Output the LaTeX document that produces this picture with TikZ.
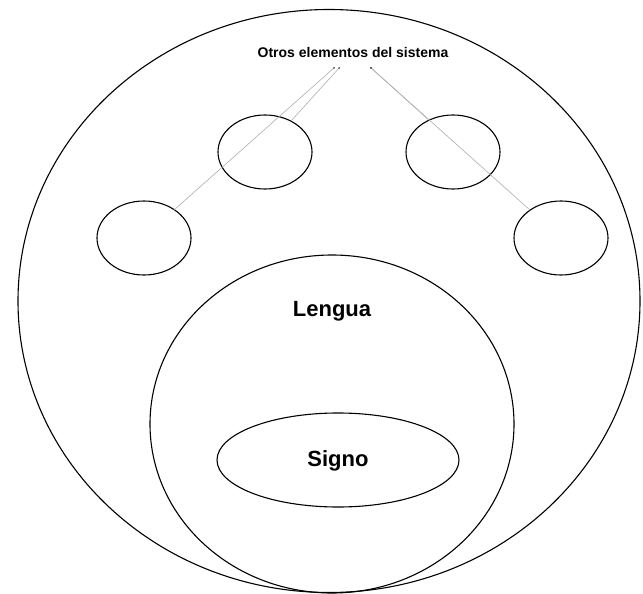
\documentclass[tikz,border=0pt]{standalone}
\usepackage{fontspec}
\setmainfont{Liberation Sans}
\usetikzlibrary{shapes.geometric, arrows.meta, positioning}

\begin{document}
\begin{tikzpicture}[
  x=1pt, y=-1pt,
  every node/.style={font=\bfseries},
  circ/.style={ellipse, draw, line width=1.1pt, inner sep=0pt, outer sep=0pt},
  elem/.style={circ, minimum width=94pt, minimum height=74pt},
  txt/.style={font=\fontsize{22}{26}\selectfont\bfseries, inner sep=0pt},
  link/.style={{Latex[length=2pt,width=2pt,black!70]}-, black!32, line width=0.6pt}
]
\useasboundingbox (0,0) rectangle (643,594);
% system, language and sign
\node[circ, minimum width=622pt, minimum height=583pt] (sistema) at (329,301) {};
\node[circ, minimum width=364pt, minimum height=338pt] (lengua)  at (332,424) {};
\node[circ, minimum width=242pt, minimum height=94pt]  (signo)   at (338,460) {};
\node[txt] (lenguatxt) at (332,311) {Lengua};
\node[txt] (signotxt)  at (338,461) {Signo};
% other elements
\node[elem] (izq)  at (144,238) {};
\node[elem] (arrI) at (265,152) {};
\node[elem] (arrD) at (453,152) {};
\node[elem] (der)  at (561,238) {};
\node[font=\fontsize{14}{16}\selectfont\bfseries, inner sep=0pt] (otros) at (353,52)
  {Otros elementos del sistema};
\coordinate (pa) at (335,67);
\coordinate (pb) at (340,67);
\coordinate (pc) at (370,67);

\draw[link] (pa) -- (izq.43);
\draw[link] (pb) -- (arrI.50);
\draw[link] (pc) -- (arrD.127);
\draw[link] (pc) -- (der.138);
\end{tikzpicture}
\end{document}
